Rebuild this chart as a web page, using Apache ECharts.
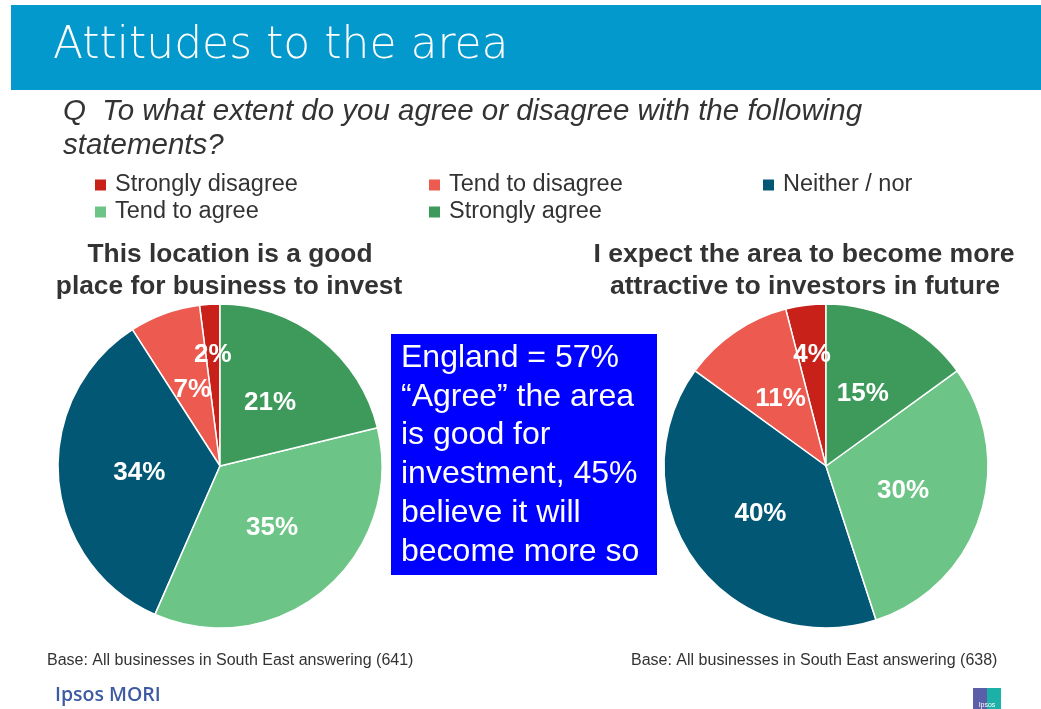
<!DOCTYPE html>
<html>
<head>
<meta charset="utf-8">
<script src="https://cdn.jsdelivr.net/npm/echarts@6/dist/echarts.min.js"></script>
<style>
  html, body { margin: 0; padding: 0; background: #ffffff; }
  #chart { width: 1041px; height: 709px; }
</style>
</head>
<body>
<div id="chart"></div>
<script>
// Survey answer categories (legend order) and the share of businesses giving each answer
const categories = ['Strongly disagree', 'Tend to disagree', 'Neither / nor', 'Tend to agree', 'Strongly agree'];
const investValues = [2, 7, 34, 35, 21];   // "good place for business to invest"
const futureValues = [4, 11, 40, 30, 15];  // "more attractive to investors in future"
const sliceColors = ['#c8211a', '#ec5a50', '#025874', '#6cc586', '#3e9a5a'];

const investTitle = ['This location is a good', 'place for business to invest'];
const futureTitle = ['I expect the area to become more', 'attractive to investors in future'];
const baseNotes = ['Base: All businesses in South East answering (641)', 'Base: All businesses in South East answering (638)'];
const calloutLines = ['England = 57%', '\u201CAgree\u201D the area', 'is good for', 'investment, 45%', 'believe it will', 'become more so'];

const FONT = '"Liberation Sans", Arial, sans-serif';
const R = 162;
const pieCenters = [[220, 466], [826, 466]];

// Labels sit at half the radius; very thin slices push their label further out
function labelPlacement(values, center) {
  const total = values.reduce((a, b) => a + b, 0);
  return function (params) {
    const i = params.dataIndex;
    let before = 0;
    for (let k = 0; k < i; k++) before += values[k];
    const mid = (90 + (before + values[i] / 2) / total * 360) * Math.PI / 180;
    const d = values[i] < 5 ? R * 0.69 : R * 0.5;
    return { x: center[0] + d * Math.cos(mid), y: center[1] - d * Math.sin(mid) };
  };
}

function pieSeries(values, center) {
  return {
    type: 'pie',
    center: center,
    radius: R,
    startAngle: 90,
    clockwise: false,
    animation: false,
    silent: true,
    data: categories.map((name, i) => ({ name: name, value: values[i], itemStyle: { color: sliceColors[i] } })),
    itemStyle: { borderColor: '#ffffff', borderWidth: 1.5 },
    label: {
      show: true,
      position: 'inside',
      formatter: '{c}%',
      color: '#ffffff',
      fontFamily: FONT,
      fontWeight: 'bold',
      fontSize: 26,
      align: 'center',
      verticalAlign: 'middle'
    },
    labelLine: { show: false },
    labelLayout: labelPlacement(values, center),
    emphasis: { disabled: true }
  };
}

// Legend entries laid out in three columns over two rows
const legendSlots = [[95, 173], [429, 173], [763, 173], [95, 200], [429, 200]];
const legends = categories.map((name, i) => ({
  data: [name],
  left: legendSlots[i][0],
  top: legendSlots[i][1],
  padding: 0,
  icon: 'rect',
  itemWidth: 11,
  itemHeight: 11,
  itemStyle: { borderWidth: 0 },
  selectedMode: false,
  textStyle: { fontFamily: FONT, fontSize: 23.5, color: '#333333', padding: [0, 0, 0, 4] }
}));

function textEl(str, x, y, style) {
  return { type: 'text', x: x, y: y, style: Object.assign({ text: str, fontFamily: FONT, fill: '#333333', verticalAlign: 'middle' }, style) };
}

const graphics = [
  // header band
  { type: 'rect', shape: { x: 11, y: 5, width: 1030, height: 85 }, style: { fill: '#0399cc' } },
  textEl('Attitudes to the area', 53, 47, { fill: '#ffffff', fontFamily: '"DejaVu Sans", sans-serif', fontWeight: 200, fontSize: 44 }),
  // question
  textEl('Q  To what extent do you agree or disagree with the following', 63, 112, { fontStyle: 'italic', fontSize: 29.5 }),
  textEl('statements?', 63, 146, { fontStyle: 'italic', fontSize: 29.5 }),
  // pie titles
  textEl(investTitle[0], 230, 255, { fontWeight: 'bold', fontSize: 26.3, align: 'center' }),
  textEl(investTitle[1], 229, 287, { fontWeight: 'bold', fontSize: 26.3, align: 'center' }),
  textEl(futureTitle[0], 804, 255, { fontWeight: 'bold', fontSize: 26.6, align: 'center' }),
  textEl(futureTitle[1], 805, 287, { fontWeight: 'bold', fontSize: 26.6, align: 'center' }),
  // callout box
  { type: 'rect', shape: { x: 391, y: 334, width: 266, height: 241 }, style: { fill: '#0000ff' } },
  // base notes
  textEl(baseNotes[0], 47, 661, { fontSize: 16 }),
  textEl(baseNotes[1], 631, 661, { fontSize: 16 }),
  // branding
  textEl('Ipsos MORI', 55, 695, { fontFamily: '"Open Sans", sans-serif', fontWeight: 600, fontSize: 19.5, fill: '#3d5ba3' }),
  { type: 'rect', shape: { x: 973, y: 688, width: 14, height: 21 }, style: { fill: '#5a5fa8' } },
  { type: 'rect', shape: { x: 987, y: 688, width: 14, height: 21 }, style: { fill: '#1bb0a8' } },
  textEl('Ipsos', 987, 705, { fontSize: 7, fill: '#ffffff', align: 'center' })
];
calloutLines.forEach((line, i) => {
  graphics.push(textEl(line, 401, 358 + i * 38.8, { fontSize: 32, fill: '#ffffff' }));
});

const chart = echarts.init(document.getElementById('chart'), null, { renderer: 'canvas' });
chart.setOption({
  backgroundColor: '#ffffff',
  animation: false,
  legend: legends,
  series: [pieSeries(investValues, pieCenters[0]), pieSeries(futureValues, pieCenters[1])],
  graphic: { elements: graphics }
});
</script>
</body>
</html>
